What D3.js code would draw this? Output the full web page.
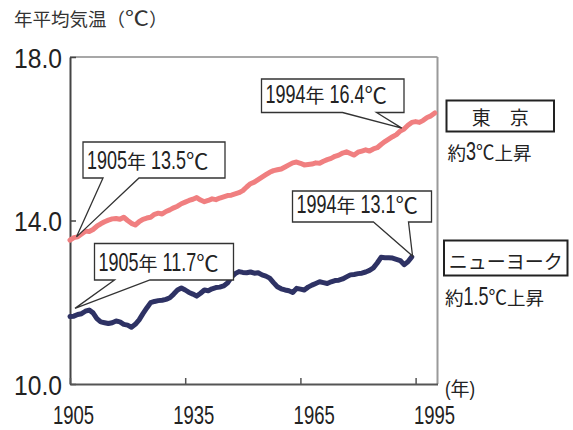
<!DOCTYPE html>
<html><head><meta charset="utf-8">
<script src="https://cdn.jsdelivr.net/npm/d3@7"></script>
<style>html,body{margin:0;padding:0;background:#fff;}svg{display:block;}</style>
</head><body>
<svg id="chart" width="573" height="430"></svg>
<script>
// ---------- data ----------
const firstYear = 1905;
const tokyoTemps = [
  13.52,13.58,13.60,13.67,13.74,13.73,13.78,13.86,13.92,13.97,
  14.01,14.04,14.05,14.03,14.08,14.00,13.93,13.89,13.97,14.03,
  14.06,14.08,14.15,14.18,14.16,14.22,14.26,14.31,14.35,14.41,
  14.45,14.49,14.52,14.56,14.50,14.46,14.49,14.53,14.51,14.55,
  14.58,14.61,14.62,14.65,14.68,14.73,14.82,14.90,14.94,15.00,
  15.06,15.12,15.18,15.22,15.24,15.26,15.31,15.36,15.41,15.43,
  15.40,15.36,15.37,15.38,15.41,15.40,15.45,15.49,15.52,15.57,
  15.60,15.65,15.68,15.64,15.60,15.67,15.70,15.73,15.70,15.75,
  15.78,15.86,15.93,15.99,16.05,16.10,16.19,16.24,16.33,16.40,
  16.42,16.40,16.45,16.52,16.56,16.63
];
const nyTemps = [
  11.65,11.66,11.70,11.72,11.78,11.81,11.74,11.60,11.52,11.50,
  11.48,11.50,11.54,11.52,11.46,11.44,11.39,11.46,11.57,11.72,
  11.86,11.99,12.02,12.04,12.05,12.07,12.11,12.20,12.30,12.35,
  12.30,12.24,12.20,12.15,12.22,12.30,12.28,12.33,12.36,12.37,
  12.40,12.47,12.61,12.70,12.75,12.73,12.72,12.74,12.71,12.72,
  12.67,12.64,12.59,12.48,12.38,12.33,12.30,12.28,12.24,12.34,
  12.32,12.30,12.37,12.42,12.46,12.50,12.48,12.46,12.50,12.53,
  12.54,12.57,12.62,12.67,12.68,12.70,12.71,12.74,12.78,12.84,
  12.96,13.10,13.09,13.09,13.08,13.05,13.02,12.92,12.99,13.11
];
const xTicks = [1905, 1935, 1965, 1995];
const yTicks = [10, 14, 18];
const titleText = "年平均気温（℃）";
const xUnit = "(年)";
const seriesNames = ["東　京", "ニューヨーク"];
const seriesNotes = ["約3℃上昇", "約1.5℃上昇"];
const calloutTexts = ["1905年 13.5℃", "1905年 11.7℃", "1994年 16.4℃", "1994年 13.1℃"];
const calloutTips = [[1906.7, 13.60], [1906.3, 11.85], [1991.4, 16.26], [1994.2, 13.13]];

// ---------- layout / style ----------
const LATIN = "'Liberation Sans', Arial, sans-serif";
const CJK = "'Noto Sans CJK JP', sans-serif";
const colors = ["#f07f80", "#2e3264"];
const calloutBoxes = [
  {x:83, y:142, w:142, h:36, t1:103, t2:139},
  {x:94.5, y:243.5, w:139, h:36.5, t1:114.5, t2:150},
  {x:261.5, y:79, w:142.5, h:33.5, t1:342.5, t2:376.5},
  {x:292.5, y:191, w:139, h:31, t1:373.5, t2:408.5}
];
const legendBoxes = [
  {x:446.5, y:100.5, w:107.5, h:31, noteY:160},
  {x:444, y:240.5, w:123.5, h:35, noteY:305}
];

const svg = d3.select("#chart");
const x = d3.scaleLinear().domain([1905, 2000.7]).range([70, 437.5]);
const y = d3.scaleLinear().domain([10, 18]).range([384, 57]);
const labelX = d3.scaleLinear().domain([1905, 1995]).range([73, 434]);

// mixed latin (condensed) / CJK text helper; ℃ drawn as a wide symbol
function mixed(parent, str, px, py, o) {
  const g = parent.append("g");
  const runs = str.match(/℃|[\x20-\x7E]+|[^\x20-\x7E℃]+/g);
  let cx = 0;
  runs.forEach(r => {
    const latin = /^[\x20-\x7E]/.test(r);
    const deg = r === "℃";
    const size = latin ? o.latin : deg ? o.cjk * 1.12 : o.cjk;
    const t = g.append("text")
      .attr("font-family", latin ? LATIN : CJK)
      .attr("font-size", size)
      .attr("fill", o.fill || "#222")
      .style("white-space", "pre")
      .text(r);
    const w = t.node().getComputedTextLength();
    let sx = latin ? o.sx : 1;
    if (deg) sx = (o.cjk * (o.degW || 1.18)) / w;
    t.attr("transform", `translate(${cx},0) scale(${sx},1)`);
    cx += w * sx;
  });
  const shift = o.anchor === "middle" ? -cx / 2 : o.anchor === "end" ? -cx : 0;
  g.attr("transform", `translate(${px + shift},${py})`);
  return g;
}

// title
mixed(svg, titleText, 14, 26, {latin:20, cjk:18.5, sx:1, fill:"#333", degW:1.3});

// frame top / right
svg.append("line").attr("x1", x.range()[0]).attr("x2", x.range()[1])
  .attr("y1", y(18)).attr("y2", y(18)).attr("stroke", "#8a8a8a").attr("stroke-width", 1.5);
svg.append("line").attr("x1", x.range()[1]).attr("x2", x.range()[1])
  .attr("y1", y(18)).attr("y2", y(10)).attr("stroke", "#9a9a9a").attr("stroke-width", 2);

// axes
const gy = svg.append("g").attr("transform", `translate(${x.range()[0]},0)`)
  .call(d3.axisLeft(y).tickValues(yTicks).tickFormat(d3.format(".1f")).tickSizeInner(-6).tickSizeOuter(0).tickPadding(9));
gy.select(".domain").attr("stroke", "#444").attr("stroke-width", 2);
gy.selectAll(".tick line").attr("stroke", "#444").attr("stroke-width", 1.5);
gy.selectAll(".tick text").attr("font-family", LATIN).attr("font-size", 28).attr("fill", "#222")
  .attr("transform", "scale(0.88,1)").attr("x", -8 / 0.88).attr("dy", 10);

const gx = svg.append("g").attr("transform", `translate(0,${y.range()[0]})`)
  .call(d3.axisBottom(x).tickValues(xTicks).tickFormat(d3.format("d")).tickSizeInner(-6).tickSizeOuter(0));
gx.select(".domain").attr("stroke", "#555").attr("stroke-width", 2);
gx.selectAll(".tick line").attr("stroke", "#555").attr("stroke-width", 1.5);
gx.selectAll(".tick text").attr("font-family", LATIN).attr("font-size", 25).attr("fill", "#222")
  .attr("transform", "scale(0.74,1)").attr("x", d => (labelX(d) - x(d)) / 0.74).attr("y", 40.5).attr("dy", 0);

mixed(svg, xUnit, 445, 396, {latin:21, cjk:19, sx:0.8});

// lines
const line = d3.line().x(d => x(d[0])).y(d => y(d[1]));
[tokyoTemps, nyTemps].forEach((vals, i) => {
  const pts = vals.map((v, k) => [firstYear + k, v]);
  svg.append("path").datum(pts).attr("d", line).attr("fill", "none")
    .attr("stroke", colors[i]).attr("stroke-width", 5).attr("stroke-linejoin", "round").attr("stroke-linecap", "round");
});

// callouts
calloutTexts.forEach((txt, i) => {
  const b = calloutBoxes[i];
  const tx = x(calloutTips[i][0]), ty = y(calloutTips[i][1]);
  const bot = b.y + b.h;
  const p = `M${b.t1},${bot} L${tx},${ty} L${b.t2},${bot} L${b.x + b.w},${bot} L${b.x + b.w},${b.y} L${b.x},${b.y} L${b.x},${bot} Z`;
  svg.append("path").attr("d", p).attr("fill", "#fff").attr("stroke", "#333").attr("stroke-width", 1.3).attr("stroke-linejoin", "miter");
  mixed(svg, txt, b.x + 4, bot - 9.5, {latin:25, cjk:19, sx:0.72});
});

// legend
seriesNames.forEach((name, i) => {
  const b = legendBoxes[i];
  svg.append("rect").attr("x", b.x).attr("y", b.y).attr("width", b.w).attr("height", b.h)
    .attr("fill", "#fff").attr("stroke", "#222").attr("stroke-width", 2);
  mixed(svg, name, b.x + b.w / 2, b.y + b.h - 7, {latin:24, cjk:19, sx:0.72, anchor:"middle"});
  mixed(svg, seriesNotes[i], b.x + 1, b.noteY, {latin:25, cjk:18.5, sx:0.72, degW:1.0});
});
</script>
</body></html>
